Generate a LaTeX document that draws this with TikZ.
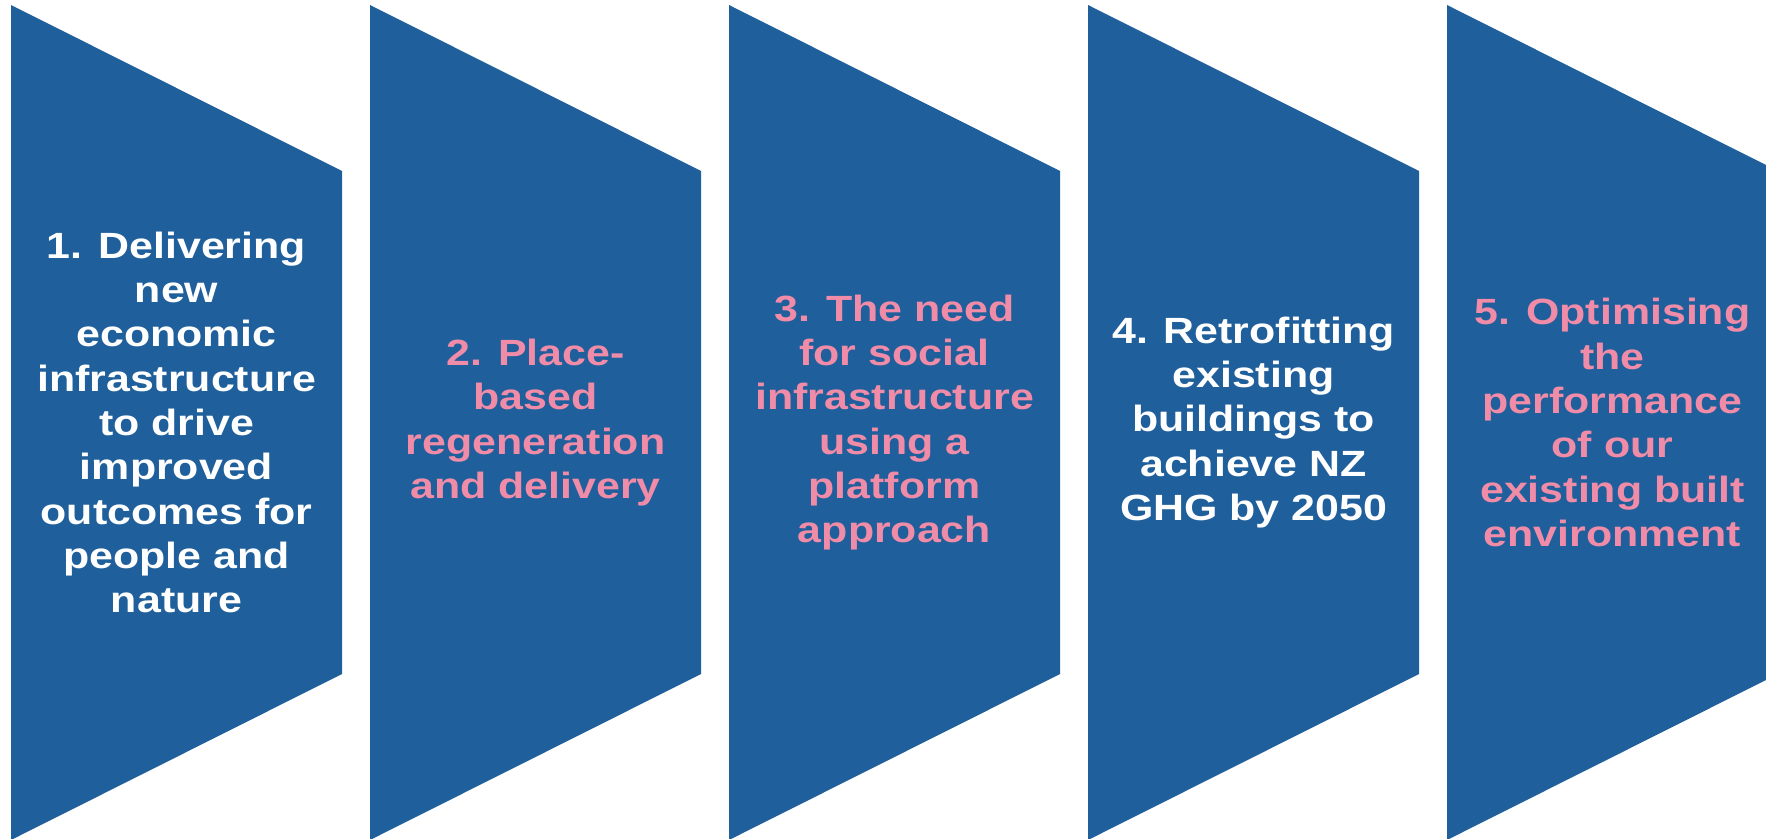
\documentclass[tikz,border=0pt]{standalone}
\usepackage{fontspec}
\setmainfont[FakeStretch=1.175]{Liberation Sans}
\definecolor{shapeblue}{HTML}{1F5F9B}
\definecolor{labelpink}{HTML}{F08CA8}
\begin{document}
\begin{tikzpicture}[x=1pt,y=-1pt,
  chev/.style={fill=shapeblue},
  lbl/.style={align=center, font=\bfseries\fontsize{36.5}{44.3}\selectfont, inner sep=0pt},
  lblwhite/.style={lbl, text=white},
  lblpink/.style={lbl, text=labelpink}]
\useasboundingbox (0,0) rectangle (1766,838);
\clip (0,0) rectangle (1766,838);
\foreach \i in {0,...,4} {
  \pgfmathsetmacro\L{11+359*\i}
  \fill[chev] (\L,5) -- ++(331,166) -- ++(0,503) -- ++(-331,166) -- cycle;
}
\node[lblwhite] (t1) at (176.5,422.5) {1. Delivering\\new\\economic\\infrastructure\\to drive\\improved\\outcomes for\\people and\\nature};
\node[lblpink] (t2) at (535.5,422.5) {2. Place-\\based\\regeneration\\and delivery};
\node[lblpink] (t3) at (894.5,422.5) {3. The need\\for social\\infrastructure\\using a\\platform\\approach};
\node[lblwhite] (t4) at (1253.5,422.5) {4. Retrofitting\\existing\\buildings to\\achieve NZ\\GHG by 2050};
\node[lblpink] (t5) at (1612.5,422.5) {5. Optimising\\the\\performance\\of our\\existing built\\environment};
\end{tikzpicture}
\end{document}
